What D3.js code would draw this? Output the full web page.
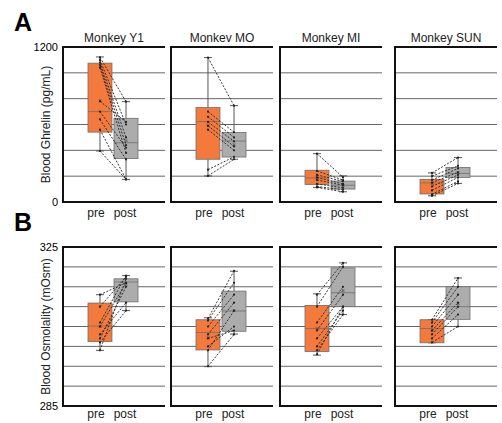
<!DOCTYPE html>
<html>
<head>
<meta charset="utf-8">
<script src="https://cdn.jsdelivr.net/npm/d3@7"></script>
<style>
  body { margin: 0; background: white; }
  svg { font-family: "Liberation Sans", Arial, sans-serif; }
</style>
</head>
<body>
<svg width="502" height="423"></svg>
<script>
// monkeys and groups
var monkeys = ["Monkey Y1", "Monkev MO", "Monkey MI", "Monkey SUN"];
var groups = ["pre", "post"];

// box stats: [min, q1, median, q3, max, mean]
var ghrelinPreBox = [
  [395, 541, 700, 1075, 1123, 782],
  [202, 331, 623, 731, 1118, 592],
  [113, 136, 187, 246, 374, 190],
  [48, 62, 148, 175, 225, 140]
];
var ghrelinPostBox = [
  [175, 336, 459, 648, 777, 475],
  [331, 348, 472, 538, 746, 446],
  [79, 100, 130, 162, 202, 130],
  [144, 190, 221, 267, 344, 225]
];
// paired samples
var ghrelinPre = [
  [1120, 1100, 1080, 1060, 1040, 780, 700, 640, 560, 395],
  [1118, 700, 660, 620, 590, 560, 250, 202],
  [374, 240, 210, 190, 170, 140, 120, 113],
  [225, 200, 170, 150, 120, 90, 60, 48]
];
var ghrelinPost = [
  [777, 600, 500, 440, 380, 620, 420, 330, 175, 175],
  [746, 540, 500, 470, 430, 400, 350, 331],
  [192, 170, 160, 140, 130, 110, 95, 79],
  [344, 280, 260, 230, 210, 190, 160, 144]
];

var osmPreBox = [
  [299, 301.2, 305.1, 310.9, 313, 305],
  [294.9, 299.1, 303.5, 306.7, 307.2, 302.3],
  [297.8, 298.7, 304.5, 310.3, 313.2, 304.5],
  [300.9, 300.9, 304.5, 306.7, 306.7, 304]
];
var osmPostBox = [
  [309, 311.2, 316.2, 317, 317.8, 315.5],
  [303.1, 303.8, 308.9, 313.9, 318.9, 309],
  [308, 310, 313.5, 319.75, 321, 314],
  [305, 306.8, 310, 315, 317.2, 310.7]
];
var osmPre = [
  [313, 310, 306, 305, 303, 302, 301, 299],
  [307, 306.5, 305, 303, 302, 300, 299, 295],
  [313, 310, 306, 304, 302, 300, 299, 298],
  [306.7, 306, 305, 304, 303, 302, 301]
];
var osmPost = [
  [316, 317.5, 317.8, 316, 311, 315, 309, 317],
  [319, 316, 313, 311, 304, 305, 309, 303],
  [321, 320, 315, 313, 310, 309, 308, 310],
  [317.2, 315, 313, 311, 310, 308, 305]
];

var svg = d3.select("svg");
var panelLeft = [63, 171, 280, 395],
    panelW = 102;

var orange = "#f37a3c", grey = "#acacac";

var xb = d3.scaleBand().domain(groups).range([25, 75]).paddingInner(0.08);

function drawRow(opt) {
  var y = d3.scaleLinear().domain(opt.domain).range([opt.bottom, opt.top]);
  var ticks = d3.range(opt.domain[0], opt.domain[1] + 0.001, opt.step);

  // panel letter and y label
  svg.append("text").attr("x", 14).attr("y", opt.top - 16)
    .attr("font-size", 25).attr("font-weight", "bold").text(opt.letter);
  svg.append("text")
    .attr("transform", "translate(50," + ((opt.top + opt.bottom) / 2) + ") rotate(-90)")
    .attr("text-anchor", "middle").attr("font-size", 12).attr("fill", "#222")
    .text(opt.ylabel);
  svg.append("text").attr("x", 58).attr("y", y(opt.domain[1]) + 4)
    .attr("text-anchor", "end").attr("font-size", 11).text(opt.domain[1]);
  svg.append("text").attr("x", 58).attr("y", y(opt.domain[0]) + 4)
    .attr("text-anchor", "end").attr("font-size", 11).text(opt.domain[0]);

  monkeys.forEach(function(m, i) {
    var g = svg.append("g").attr("transform", "translate(" + panelLeft[i] + ",0)");

    if (opt.titles) {
      g.append("text").attr("x", panelW / 2).attr("y", opt.top - 5)
        .attr("text-anchor", "middle").attr("font-size", 12).attr("fill", "#222").text(m);
    }

    // grid
    g.selectAll(".grid").data(ticks.slice(1, -1)).enter().append("line")
      .attr("x1", 0).attr("x2", panelW)
      .attr("y1", function(d) { return y(d); }).attr("y2", function(d) { return y(d); })
      .attr("stroke", "#666").attr("stroke-width", 1);

    var boxes = [opt.preBox[i], opt.postBox[i]];
    var colors = [orange, grey];

    boxes.forEach(function(b, k) {
      var x0 = xb(groups[k]), w = xb.bandwidth(), cx = x0 + w / 2;
      // whiskers
      g.append("line").attr("x1", cx).attr("x2", cx).attr("y1", y(b[0])).attr("y2", y(b[1]))
        .attr("stroke", "#555").attr("stroke-width", 1);
      g.append("line").attr("x1", cx).attr("x2", cx).attr("y1", y(b[3])).attr("y2", y(b[4]))
        .attr("stroke", "#555").attr("stroke-width", 1);
      [b[0], b[4]].forEach(function(v) {
        g.append("line").attr("x1", cx - 4).attr("x2", cx + 4).attr("y1", y(v)).attr("y2", y(v))
          .attr("stroke", "#555").attr("stroke-width", 1);
      });
      g.append("rect").attr("x", x0).attr("width", w)
        .attr("y", y(b[3])).attr("height", y(b[1]) - y(b[3]))
        .attr("fill", colors[k]).attr("stroke", "#6e6e6e").attr("stroke-width", 0.8);
      g.append("line").attr("x1", x0).attr("x2", x0 + w).attr("y1", y(b[2])).attr("y2", y(b[2]))
        .attr("stroke", "#6e6e6e").attr("stroke-width", 0.8);
      // mean marker
      g.append("text").attr("x", cx).attr("y", y(b[5]) + 2.5).attr("text-anchor", "middle")
        .attr("font-size", 7).attr("fill", "#444").text("×");
    });

    // paired dashed lines
    var pcx = xb("pre") + xb.bandwidth() / 2, qcx = xb("post") + xb.bandwidth() / 2;
    var pairs = d3.zip(opt.pre[i], opt.post[i]);
    g.selectAll(".pair").data(pairs).enter().append("line")
      .attr("x1", pcx).attr("x2", qcx)
      .attr("y1", function(d) { return y(d[0]); }).attr("y2", function(d) { return y(d[1]); })
      .attr("stroke", "#222").attr("stroke-width", 0.9).attr("stroke-dasharray", "2,1.5");
    pairs.forEach(function(d) {
      g.append("circle").attr("cx", pcx).attr("cy", y(d[0])).attr("r", 1.1).attr("fill", "#222");
      g.append("circle").attr("cx", qcx).attr("cy", y(d[1])).attr("r", 1.1).attr("fill", "#222");
    });

    // frame: left, top, bottom
    g.append("path")
      .attr("d", "M" + panelW + "," + opt.top + "H0V" + opt.bottom + "H" + panelW)
      .attr("fill", "none").attr("stroke", "#111").attr("stroke-width", 2);

    // group labels
    g.append("text").attr("x", xb("pre") + xb.bandwidth() / 2 - 4).attr("y", opt.bottom + opt.labelDy)
      .attr("text-anchor", "middle").attr("font-size", 12).attr("fill", "#222").text("pre");
    g.append("text").attr("x", xb("post") + xb.bandwidth() / 2 - 1).attr("y", opt.bottom + opt.labelDy)
      .attr("text-anchor", "middle").attr("font-size", 12).attr("fill", "#222").text("post");
  });
}

drawRow({
  letter: "A", ylabel: "Blood Ghrelin (pg/mL)", titles: true,
  domain: [0, 1200], step: 200, top: 47, bottom: 202, labelDy: 15,
  preBox: ghrelinPreBox, postBox: ghrelinPostBox, pre: ghrelinPre, post: ghrelinPost
});
drawRow({
  letter: "B", ylabel: "Blood Osmolality (mOsm)", titles: false,
  domain: [285, 325], step: 5, top: 247, bottom: 406, labelDy: 12,
  preBox: osmPreBox, postBox: osmPostBox, pre: osmPre, post: osmPost
});
</script>
</body>
</html>
